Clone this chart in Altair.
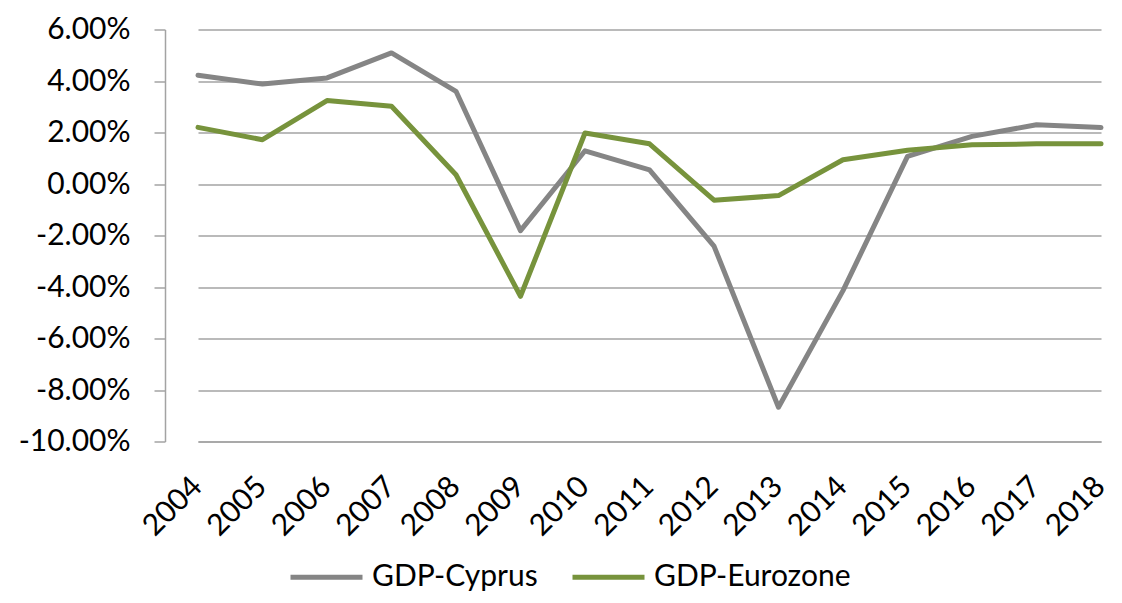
import altair as alt
import pandas as pd

years = ["2004", "2005", "2006", "2007", "2008", "2009", "2010", "2011",
         "2012", "2013", "2014", "2015", "2016", "2017", "2018"]
cyprus = [4.22, 3.88, 4.12, 5.09, 3.60, -1.81, 1.29, 0.55, -2.41, -8.67,
          -4.14, 1.07, 1.85, 2.30, 2.19]
eurozone = [2.20, 1.72, 3.24, 3.02, 0.36, -4.36, 1.98, 1.56, -0.63, -0.45,
            0.94, 1.31, 1.52, 1.56, 1.56]
series_names = ["GDP-Cyprus", "GDP-Eurozone"]
series_colors = ["#858585", "#77933C"]
y_ticks = [-10, -8, -6, -4, -2, 0, 2, 4, 6]

rows = []
for name, vals in zip(series_names, [cyprus, eurozone]):
    for yr, v in zip(years, vals):
        rows.append({"year": yr, "series": name, "value": v})
df = pd.DataFrame(rows)

FONT = "Lato"
GRID = "#A3A3A3"

chart = alt.Chart(df).mark_line(strokeWidth=5, strokeCap="round", strokeJoin="round").encode(
    x=alt.X("year:O", sort=years,
            scale=alt.Scale(type="point", range=[33, 936], padding=0),
            axis=alt.Axis(title=None, labelAngle=-45, labelAlign="right",
                          labelBaseline="middle", tickSize=0, labelPadding=40,
                          labelOffset=-1, domainColor=GRID, domainWidth=1.5,
                          labelFont=FONT, labelFontSize=30, labelColor="#000000")),
    y=alt.Y("value:Q",
            scale=alt.Scale(domain=[-10, 6], nice=False, zero=False),
            axis=alt.Axis(title=None, values=y_ticks, grid=True, gridColor=GRID,
                          gridWidth=1.5, tickSize=11, tickColor=GRID, tickWidth=1.5,
                          domainColor=GRID, domainWidth=1.5, labelPadding=24,
                          labelExpr="(datum.value < 0 ? '-' : '') + format(abs(datum.value), '.2f') + '%'",
                          labelFont=FONT, labelFontSize=30, labelColor="#000000")),
    color=alt.Color("series:N",
                    scale=alt.Scale(domain=series_names, range=series_colors),
                    legend=alt.Legend(orient="none", legendX=123, legendY=509,
                                      direction="horizontal", title=None,
                                      symbolType="stroke", symbolSize=5184,
                                      symbolStrokeWidth=5, labelFont=FONT,
                                      labelFontSize=30, labelColor="#000000",
                                      labelLimit=0, labelOffset=7, columnPadding=24)),
).properties(
    width=949, height=412,
    autosize=alt.AutoSizeParams(type="none"),
    padding={"left": 157, "top": 21.5, "right": 0, "bottom": 153.5},
).configure_view(strokeWidth=0)

chart.save("out.html", embed_options={"renderer": "svg", "actions": False})
